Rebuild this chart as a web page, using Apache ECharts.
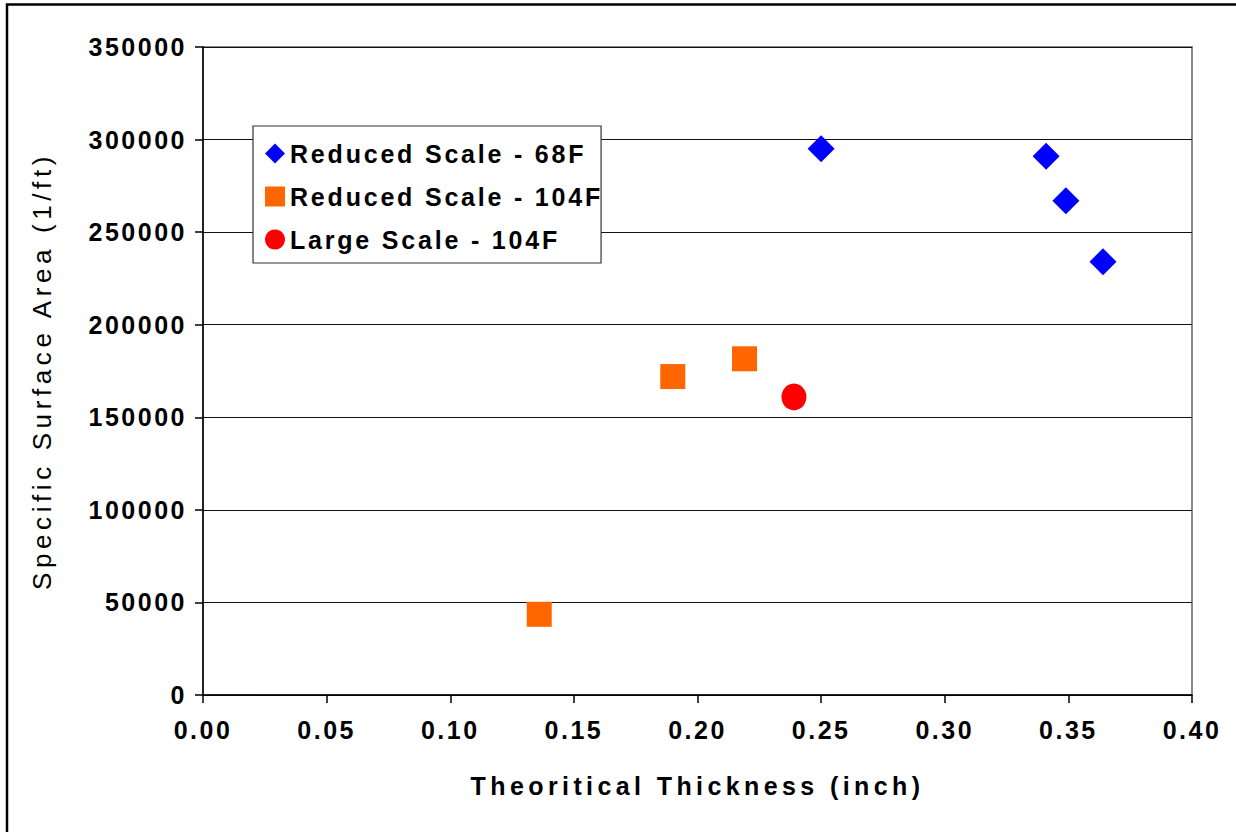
<!DOCTYPE html>
<html>
<head>
<meta charset="utf-8">
<script src="https://cdn.jsdelivr.net/npm/echarts@6/dist/echarts.min.js"></script>
<style>
  html, body { margin: 0; padding: 0; background: #fff; }
  #chart { width: 1236px; height: 832px; }
</style>
</head>
<body>
<div id="chart"></div>
<script>
// ---- data ----
const seriesNames = ['Reduced Scale - 68F', 'Reduced Scale - 104F', 'Large Scale - 104F'];
const reduced68X = [0.250, 0.341, 0.349, 0.364];
const reduced68Y = [295000, 291000, 267000, 234000];
const reduced104X = [0.136, 0.190, 0.219];
const reduced104Y = [43600, 172000, 181600];
const large104X = [0.239];
const large104Y = [161000];
const xTickValues = ['0.00', '0.05', '0.10', '0.15', '0.20', '0.25', '0.30', '0.35', '0.40'];
const yTickValues = ['0', '50000', '100000', '150000', '200000', '250000', '300000', '350000'];
const xTitle = 'Theoritical Thickness (inch)';
const yTitle = 'Specific Surface Area (1/ft)';

function pairs(xs, ys) { return xs.map((x, i) => [x, ys[i]]); }

const FONT = '"Liberation Sans", Arial, sans-serif';
const chart = echarts.init(document.getElementById('chart'), null, { renderer: 'svg' });

const option = {
  animation: false,
  backgroundColor: '#fff',
  graphic: [{
    type: 'rect', silent: true, z: 100,
    shape: { x: 7, y: 4.5, width: 1270, height: 870 },
    style: { fill: 'none', stroke: '#000', lineWidth: 2.5 }
  }],
  grid: {
    left: 203, right: 44, top: 47, bottom: 137,
    show: true, borderColor: '#8a8a8a', borderWidth: 2, backgroundColor: '#fff'
  },
  legend: {
    orient: 'vertical',
    left: 253, top: 126,
    padding: [15, 54, 11, 12],
    itemGap: 18,
    itemWidth: 20, itemHeight: 20,
    itemTextGap: 6,
    backgroundColor: '#fff',
    borderColor: '#333', borderWidth: 1.2,
    textStyle: { color: '#000', fontSize: 25, fontWeight: 'bold', fontFamily: FONT },
    data: [
      { name: seriesNames[0], icon: 'diamond' },
      { name: seriesNames[1], icon: 'rect' },
      { name: seriesNames[2], icon: 'circle' }
    ]
  },
  xAxis: {
    type: 'value', min: 0, max: 0.4, interval: 0.05,
    name: xTitle, nameLocation: 'middle', nameGap: 78,
    nameTextStyle: { color: '#000', fontSize: 25, fontWeight: 'bold', fontFamily: FONT },
    axisLine: { show: true, onZero: false, lineStyle: { color: '#000', width: 1.5 } },
    axisTick: { show: true, inside: false, length: 8, lineStyle: { color: '#000', width: 1.5 } },
    axisLabel: {
      color: '#000', fontSize: 25, fontWeight: 'bold', fontFamily: FONT, margin: 22,
      formatter: (v) => { const i = Math.round(v / 0.05); return xTickValues[i] !== undefined ? xTickValues[i] : v.toFixed(2); }
    },
    splitLine: { show: false }
  },
  yAxis: {
    type: 'value', min: 0, max: 350000, interval: 50000,
    name: yTitle, nameLocation: 'middle', nameGap: 148, nameRotate: 90,
    nameTextStyle: { color: '#000', fontSize: 26, fontWeight: 'normal', fontFamily: FONT },
    axisLine: { show: true, onZero: false, lineStyle: { color: '#000', width: 1.5 } },
    axisTick: { show: true, inside: false, length: 8, lineStyle: { color: '#000', width: 1.5 } },
    axisLabel: {
      color: '#000', fontSize: 25, fontWeight: 'bold', fontFamily: FONT, margin: 16,
      formatter: (v) => { const i = Math.round(v / 50000); return yTickValues[i] !== undefined ? yTickValues[i] : String(v); }
    },
    splitLine: { show: true, lineStyle: { color: '#111', width: 1.2 } }
  },
  series: [
    {
      name: seriesNames[0], type: 'scatter', symbol: 'diamond', symbolSize: 27,
      itemStyle: { color: '#0000FF', opacity: 1 },
      data: pairs(reduced68X, reduced68Y)
    },
    {
      name: seriesNames[1], type: 'scatter', symbol: 'rect', symbolSize: 25,
      itemStyle: { color: '#FF6600', opacity: 1 },
      data: pairs(reduced104X, reduced104Y)
    },
    {
      name: seriesNames[2], type: 'scatter', symbol: 'circle', symbolSize: [25, 27],
      itemStyle: { color: '#FF0000', opacity: 1 },
      data: pairs(large104X, large104Y)
    }
  ]
};
chart.setOption(option);

// widen character tracking as in the reference rendering
function applyTracking() {
  const texts = chart.getDom().querySelectorAll('text');
  texts.forEach((t) => {
    const s = t.textContent;
    let ls = '2.5px';
    if (s === xTitle) ls = '4.4px';
    else if (s === yTitle) ls = '4.6px';
    else if (seriesNames.indexOf(s) >= 0) ls = '2.8px';
    t.style.letterSpacing = ls;
  });
}
applyTracking();
chart.on('finished', applyTracking);
</script>
</body>
</html>
